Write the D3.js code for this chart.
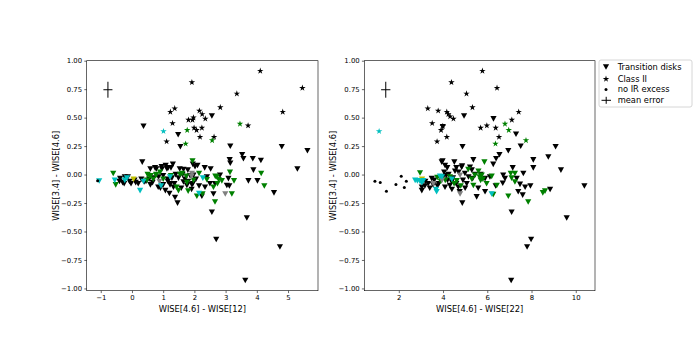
<!DOCTYPE html>
<html>
<head>
<meta charset="utf-8">
<script src="https://cdn.jsdelivr.net/npm/d3@7"></script>
<style>
body { margin: 0; background: #fff; }
text { font-family: "DejaVu Sans", sans-serif; }
</style>
</head>
<body>
<div id="chart"></div>
<script>
// tick labels
var yTicks = [1.0, 0.75, 0.5, 0.25, 0, -0.25, -0.5, -0.75, -1.0];
var leftXTicks = [-1, 0, 1, 2, 3, 4, 5];
var rightXTicks = [2, 4, 6, 8, 10];
var legendLabels = ["Transition disks", "Class II", "no IR excess", "mean error"];

// mean error cross: x, y, xerr, yerr
var leftErr = [-0.77, 0.745, 0.145, 0.07];
var rightErr = [1.41, 0.745, 0.21, 0.07];

// ---- left panel: WISE[4.6]-WISE[12] vs WISE[3.4]-WISE[4.6]
var leftTdBlack = [[0.37,0.425],[1.48,0.35],[1.55,0.245],[2.56,0.515],[3.15,0.25],[3.53,0.175],[3.57,0.14],[3.87,0.14],
  [4.13,0.125],[4.80,0.245],[5.62,0.21],[5.30,0.05],[3.13,0.13],[3.15,0.10],[3.89,0.04],[3.73,-0.055],[4.02,-0.055],
  [4.55,-0.16],[0.33,0.11],[3.68,-0.38],[2.70,-0.57],[4.74,-0.635],[3.63,-0.93],[2.61,-0.17],[2.56,-0.33],[3.12,-0.10],
  [3.04,-0.095],[2.82,-0.005],[3.09,-0.035],[-0.38,-0.035],[-0.30,-0.07],[-0.23,-0.02],[-0.13,-0.02],[-0.08,-0.06],
  [-0.03,-0.08],[0.08,-0.05],[-0.40,-0.06],[-0.25,-0.08],[0.12,-0.07],[0.45,-0.06],[0.55,-0.04],[0.66,-0.07],[0.74,0.06],
  [0.84,-0.11],[0.95,0.07],[1.08,0.08],[1.16,0.06],[1.14,-0.04],[1.22,-0.09],[1.31,0.09],[1.36,-0.08],[1.38,-0.2],
  [1.46,-0.25],[1.49,-0.03],[1.70,-0.04],[1.86,-0.01],[2.02,0.07],[0.59,0.05],[0.78,0.05],[0.96,0.05],[1.12,0.05],
  [1.25,0.06],[1.53,0.05],[1.65,0.045],[1.79,0.04],[2.10,0.08],[2.33,0.06],[2.52,0.05],[1.15,-0.06],[1.23,-0.08],
  [1.33,-0.11],[1.65,-0.065],[1.76,-0.095],[1.91,-0.13],[1.95,-0.08],[2.24,-0.19],[2.34,-0.11],[2.50,-0.08],[2.66,-0.08],
  [1.97,-0.005],[1.92,-0.09],[0.39,-0.065],[0.59,-0.09],[0.70,-0.03],[0.85,-0.02],[1.00,-0.01],[0.91,-0.12],[1.07,-0.14],
  [1.28,-0.03],[1.40,0.0],[1.58,-0.12],[1.62,0.0],[1.80,-0.06],[2.05,-0.04],[2.15,-0.10],[2.40,-0.02],[1.20,-0.165],
  [1.00,-0.09],[0.30,-0.04],[0.20,-0.08],[1.95,0.09]];
var leftTdGreen = [[-0.60,0.01],[-0.52,-0.09],[0.50,0.0],[0.60,-0.01],[0.78,0.0],[1.00,-0.04],[1.43,-0.11],[1.54,0.0],
  [1.76,-0.07],[1.97,-0.05],[1.94,0.12],[1.49,-0.14],[1.80,-0.145],[2.08,-0.19],[2.26,-0.17],[2.40,-0.045],[2.67,-0.015],
  [2.78,-0.045],[2.74,-0.08],[2.61,-0.11],[2.15,0.01],[1.74,-0.015],[1.61,0.01],[0.77,-0.005],[0.57,-0.015],[0.48,-0.05],
  [2.66,-0.24],[3.20,-0.17],[3.27,-0.055],[3.14,0.02],[4.14,0.01],[4.24,-0.10],[2.72,-0.02],[2.88,-0.055],[0.68,-0.04],
  [1.25,-0.01],[0.90,0.02]];
var leftTdCyan = [[-1.05,-0.056],[-0.55,-0.05],[-0.23,-0.05],[-0.16,-0.03],[0.37,-0.06],[0.26,-0.14],[0.93,-0.10],
  [1.22,-0.02],[2.15,-0.165],[2.27,-0.03]];
var leftTdGray = [[0.88,-0.06],[1.91,-0.015],[2.99,-0.17],[1.92,0.01]];
var leftTdOlive = [[0.05,-0.04]];
var leftC2Black = [[4.11,0.91],[1.92,0.81],[3.36,0.71],[5.46,0.76],[4.83,0.55],[1.23,0.55],[1.37,0.58],[2.16,0.56],
  [2.83,0.59],[3.72,0.43],[1.30,0.45],[1.81,0.48],[1.97,0.50],[1.94,0.48],[1.99,0.41],[2.07,0.39],[2.24,0.41],[2.25,0.53],
  [2.35,0.49],[2.18,0.33],[2.63,0.33],[1.11,0.29]];
var leftC2Green = [[3.46,0.445],[1.77,0.39],[1.72,0.27],[2.57,0.30]];
var leftC2Cyan = [[1.01,0.38]];
var leftNoIr = [[-1.10,-0.055]];

// ---- right panel: WISE[4.6]-WISE[22] vs WISE[3.4]-WISE[4.6]
var rightTdBlack = [[4.95,0.515],[6.28,0.49],[3.99,0.42],[4.88,0.245],[7.30,0.355],[7.51,0.25],[6.95,0.21],[6.55,0.175],
  [6.40,0.14],[9.09,0.245],[8.76,0.155],[8.08,0.13],[8.08,0.06],[9.33,0.04],[10.39,-0.10],[9.59,-0.38],[7.98,-0.57],
  [7.80,-0.635],[7.08,-0.93],[7.10,-0.33],[8.84,-0.13],[7.95,-0.10],[6.27,0.09],[5.37,0.13],[4.51,0.11],[3.94,0.11],
  [4.86,0.075],[7.15,0.06],[7.63,0.01],[6.72,-0.005],[6.80,-0.035],[7.33,-0.035],[7.48,-0.085],[7.71,-0.11],[7.40,-0.15],
  [7.60,-0.18],[5.90,-0.15],[5.52,-0.195],[5.59,-0.12],[6.70,-0.075],[6.12,-0.02],[5.30,0.04],[5.45,0.0],[5.34,-0.035],
  [5.90,-0.035],[4.87,-0.25],[3.04,-0.11],[3.04,-0.14],[3.18,-0.10],[3.33,-0.08],[3.49,-0.035],[3.98,0.12],[4.09,0.08],
  [4.19,0.06],[4.39,-0.065],[4.54,0.03],[4.84,0.065],[4.99,0.01],[5.07,-0.08],[4.69,-0.11],[4.31,-0.095],[4.09,-0.11],
  [5.22,0.065],[6.38,-0.10],[3.20,-0.06],[3.40,-0.12],[3.60,-0.05],[3.80,-0.08],[3.90,-0.04],[4.00,-0.02],[4.20,-0.05],
  [4.25,0.0],[4.45,-0.03],[4.60,-0.08],[4.70,0.02],[4.90,-0.05],[4.75,-0.15],[5.00,-0.12],[5.15,-0.02],[4.40,-0.13],
  [3.75,-0.10],[4.05,0.02],[4.60,0.06],[4.15,-0.01],[3.55,-0.09],[5.70,0.0]];
var rightTdGreen = [[5.87,0.11],[7.06,0.01],[7.25,0.01],[7.10,-0.03],[7.25,-0.065],[6.95,-0.19],[7.85,-0.24],[8.61,-0.145],
  [8.51,-0.16],[6.27,-0.175],[5.37,-0.095],[5.97,-0.08],[5.75,-0.005],[5.65,-0.02],[5.80,-0.04],[5.70,-0.05],[6.43,-0.095],
  [6.20,-0.015],[2.96,0.015],[3.74,-0.025],[4.31,-0.02],[4.62,-0.055],[5.14,0.045],[5.44,-0.005],[3.90,-0.06],[4.10,-0.05],
  [4.50,-0.08],[5.30,-0.04],[5.60,0.03],[4.80,-0.10]];
var rightTdCyan = [[2.74,-0.05],[2.84,-0.055],[2.96,-0.06],[3.04,-0.07],[3.11,-0.055],[3.68,-0.13],[3.71,-0.15],
  [3.86,-0.015],[3.95,-0.02],[6.20,-0.17],[4.40,-0.04]];
var rightTdGray = [[3.56,-0.08],[4.77,-0.005],[4.77,-0.17],[3.95,-0.05]];
var rightTdOlive = [[3.05,-0.04]];
var rightC2Black = [[5.78,0.91],[4.38,0.81],[5.06,0.71],[6.44,0.76],[7.42,0.55],[3.31,0.58],[3.78,0.56],[5.33,0.59],
  [7.11,0.48],[3.51,0.45],[4.17,0.55],[4.24,0.53],[4.32,0.51],[4.47,0.49],[3.99,0.425],[3.91,0.39],[5.70,0.41],[5.98,0.43],
  [6.38,0.41],[4.17,0.33],[6.53,0.33],[3.73,0.29]];
var rightC2Green = [[6.80,0.445],[6.97,0.39],[7.75,0.30],[6.37,0.27]];
var rightC2Cyan = [[1.11,0.38]];
var rightNoIr = [[0.92,-0.059],[1.16,-0.07],[1.44,-0.147],[1.87,-0.088],[2.11,-0.015],[2.25,-0.114],[2.34,-0.059]];

var width = 700, height = 348;
var fs = 6.9;      // tick labels
var fsLab = 8.3;   // axis labels + legend
var triPath = "M-3.1,-2.7L3.1,-2.7L0,2.9Z";
var star = d3.symbol().type(d3.symbolStar).size(13);

var svg = d3.select("#chart").append("svg")
  .attr("width", width)
  .attr("height", height);

var yScale = d3.scaleLinear().domain([-1.02, 1.0]).range([290.7, 60.7]);

function drawPanel(x, xTicks, xLabel, sets, err) {
  var g = svg.append("g");
  var r = x.range();

  sets.forEach(function(s) {
    if (s.kind == "tri") {
      g.selectAll(null).data(s.data).enter().append("path")
        .attr("d", triPath)
        .attr("transform", function(d) { return "translate(" + x(d[0]) + "," + yScale(d[1]) + ")"; })
        .style("fill", s.color);
    } else if (s.kind == "star") {
      g.selectAll(null).data(s.data).enter().append("path")
        .attr("d", star)
        .attr("transform", function(d) { return "translate(" + x(d[0]) + "," + yScale(d[1]) + ")"; })
        .style("fill", s.color);
    } else {
      g.selectAll(null).data(s.data).enter().append("circle")
        .attr("cx", function(d) { return x(d[0]); })
        .attr("cy", function(d) { return yScale(d[1]); })
        .attr("r", 1.5)
        .style("fill", s.color);
    }
  });

  // mean error cross
  g.append("line")
    .attr("x1", x(err[0] - err[2])).attr("x2", x(err[0] + err[2]))
    .attr("y1", yScale(err[1])).attr("y2", yScale(err[1]))
    .style("stroke", "#000").style("stroke-width", 1);
  g.append("line")
    .attr("x1", x(err[0])).attr("x2", x(err[0]))
    .attr("y1", yScale(err[1] - err[3])).attr("y2", yScale(err[1] + err[3]))
    .style("stroke", "#000").style("stroke-width", 1);

  // axes
  var xa = g.append("g")
    .attr("transform", "translate(0,290.7)")
    .call(d3.axisBottom(x).tickValues(xTicks).tickSize(2.4).tickPadding(2.2).tickFormat(d3.format("d")));
  var ya = g.append("g")
    .attr("transform", "translate(" + r[0] + ",0)")
    .call(d3.axisLeft(yScale).tickValues(yTicks).tickSize(2.4).tickPadding(2.2).tickFormat(d3.format(".2f")));
  [xa, ya].forEach(function(a) {
    a.select(".domain").remove();
    a.selectAll("line").style("stroke", "#000").style("stroke-width", 0.6);
    a.selectAll("text").style("font-size", fs + "px").style("fill", "#000")
      .style("font-family", '"DejaVu Sans", sans-serif');
  });

  g.append("rect")
    .attr("x", r[0]).attr("y", 60.7)
    .attr("width", r[1] - r[0]).attr("height", 230)
    .style("fill", "none").style("stroke", "#000").style("stroke-width", 0.6);

  g.append("text")
    .attr("x", (r[0] + r[1]) / 2).attr("y", 312)
    .attr("text-anchor", "middle")
    .style("font-size", fsLab + "px")
    .text(xLabel);
  g.append("text")
    .attr("transform", "translate(" + (r[0] - 31) + ",175.7) rotate(-90)")
    .attr("text-anchor", "middle")
    .attr("dy", "0.35em")
    .style("font-size", fsLab + "px")
    .text("WISE[3.4] - WISE[4.6]");
}

var xLeft = d3.scaleLinear().domain([-1.45, 5.96]).range([86.7, 318]);
var xRight = d3.scaleLinear().domain([0.44, 10.87]).range([364.3, 595]);

drawPanel(xLeft, leftXTicks, "WISE[4.6] - WISE[12]", [
  {kind: "tri", color: "#000", data: leftTdBlack},
  {kind: "tri", color: "#008000", data: leftTdGreen},
  {kind: "tri", color: "#808080", data: leftTdGray},
  {kind: "tri", color: "#bfbf00", data: leftTdOlive},
  {kind: "tri", color: "#00bfbf", data: leftTdCyan},
  {kind: "star", color: "#000", data: leftC2Black},
  {kind: "star", color: "#008000", data: leftC2Green},
  {kind: "star", color: "#00bfbf", data: leftC2Cyan},
  {kind: "dot", color: "#000", data: leftNoIr}
], leftErr);

drawPanel(xRight, rightXTicks, "WISE[4.6] - WISE[22]", [
  {kind: "tri", color: "#000", data: rightTdBlack},
  {kind: "tri", color: "#008000", data: rightTdGreen},
  {kind: "tri", color: "#808080", data: rightTdGray},
  {kind: "tri", color: "#bfbf00", data: rightTdOlive},
  {kind: "tri", color: "#00bfbf", data: rightTdCyan},
  {kind: "star", color: "#000", data: rightC2Black},
  {kind: "star", color: "#008000", data: rightC2Green},
  {kind: "star", color: "#00bfbf", data: rightC2Cyan},
  {kind: "dot", color: "#000", data: rightNoIr}
], rightErr);

// legend
var lg = svg.append("g").attr("transform", "translate(599,60)");
lg.append("rect")
  .attr("width", 93).attr("height", 47).attr("rx", 2)
  .style("fill", "#fff").style("stroke", "#ccc").style("stroke-width", 0.8);
var rowY = [6.9, 19, 29.5, 40.3];
lg.append("path").attr("d", triPath).attr("transform", "translate(7," + rowY[0] + ")").style("fill", "#000");
lg.append("path").attr("d", star).attr("transform", "translate(7," + rowY[1] + ")").style("fill", "#000");
lg.append("circle").attr("cx", 7).attr("cy", rowY[2]).attr("r", 1.5).style("fill", "#000");
lg.append("line").attr("x1", 2.5).attr("x2", 12).attr("y1", rowY[3]).attr("y2", rowY[3])
  .style("stroke", "#000").style("stroke-width", 1);
lg.append("line").attr("x1", 7.2).attr("x2", 7.2).attr("y1", rowY[3] - 3.5).attr("y2", rowY[3] + 3.5)
  .style("stroke", "#000").style("stroke-width", 1);
lg.selectAll("text.lab").data(legendLabels).enter().append("text")
  .attr("class", "lab")
  .attr("x", 18.7)
  .attr("y", function(d, i) { return rowY[i]; })
  .attr("dy", "0.35em")
  .style("font-size", fsLab + "px")
  .text(function(d) { return d; });
</script>
</body>
</html>
